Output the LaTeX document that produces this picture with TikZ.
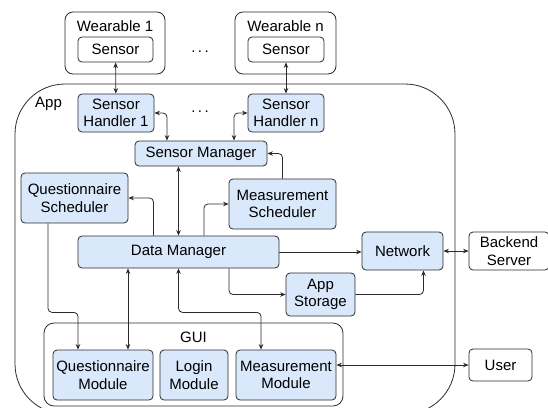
\documentclass[tikz,border=0pt]{standalone}
\usepackage{fontspec}
\setmainfont{Liberation Sans}
\usetikzlibrary{arrows.meta}
\definecolor{boxblue}{HTML}{DAE8FC}
\definecolor{linegray}{HTML}{2B2B2B}

\begin{document}
\begin{tikzpicture}[x=1pt,y=1pt,
  every node/.style={font=\fontsize{15}{17.5}\selectfont},
  module/.style={draw=linegray,fill=boxblue,rounded corners=4pt,align=center,inner sep=0pt,line width=0.8pt},
  plainbox/.style={module,fill=white},
  holder/.style={draw=linegray,fill=white,rounded corners=8pt,inner sep=0pt,line width=0.8pt},
  link/.style={draw=linegray,line width=0.8pt,rounded corners=4pt,-{Stealth[length=5.5pt,width=4.5pt]}},
  both/.style={link,{Stealth[length=5.5pt,width=4.5pt]}-{Stealth[length=5.5pt,width=4.5pt]}}]
\useasboundingbox (0,0) rectangle (548,-407);

% the wearables
\node[holder,minimum width=100,minimum height=62] (wear1) at (115,-43) {};
\node (wear1lab) at (115,-26.5) {Wearable 1};
\node[plainbox,minimum width=75,minimum height=25] (sens1) at (115.5,-49.5) {Sensor};
\node[holder,minimum width=101,minimum height=62] (wearn) at (285.5,-43) {};
\node (wearnlab) at (285.5,-26.5) {Wearable n};
\node[plainbox,minimum width=76,minimum height=25] (sensn) at (286,-49.5) {Sensor};
\node[anchor=base,inner sep=0pt] (dotsa) at (200,-52) {\,.\,.\,.\,};

% the app
\node[draw=linegray,line width=0.8pt,rounded corners=50pt,minimum width=440,minimum height=330,inner sep=0pt] (app) at (235,-249) {};
\node[anchor=base west,inner sep=0pt] (applab) at (35,-107) {App};
\node[module,minimum width=76,minimum height=38] (sh1) at (116,-113) {Sensor\\Handler 1};
\node[module,minimum width=76,minimum height=38] (shn) at (286,-113) {Sensor\\Handler n};
\node[anchor=base,inner sep=0pt] (dotsb) at (200,-112) {\,.\,.\,.\,};
\node[module,minimum width=132,minimum height=25] (sm) at (201,-153.5) {Sensor Manager};
\node[module,minimum width=107,minimum height=50] (qs) at (74.5,-198) {Questionnaire\\Scheduler};
\node[module,minimum width=107,minimum height=50] (ms) at (282.5,-204) {Measurement\\Scheduler};
\node[module,minimum width=201,minimum height=32] (dm) at (178.5,-252) {Data Manager};
\node[module,minimum width=81,minimum height=38] (net) at (402.5,-251) {Network};
\node[module,minimum width=69,minimum height=43] (as) at (320.5,-294.5) {App\\Storage};

% the gui
\node[draw=linegray,line width=0.8pt,rounded corners=10pt,minimum width=299,minimum height=83,inner sep=0pt] (gui) at (193.5,-364.5) {};
\node (guilab) at (193.5,-337.5) {GUI};
\node[module,minimum width=100,minimum height=50] (qm) at (103,-375) {Questionnaire\\Module};
\node[module,minimum width=68,minimum height=50] (lm) at (194,-375) {Login\\Module};
\node[module,minimum width=100,minimum height=50] (mm) at (286,-375) {Measurement\\Module};

% outside
\node[plainbox,minimum width=80,minimum height=38] (back) at (509,-251) {Backend\\Server};
\node[plainbox,minimum width=63,minimum height=32] (user) at (500.5,-365) {User};

% connectors
\draw[both] (sens1) -- (sh1);
\draw[both] (sensn) -- (shn);
\draw[both] (sh1.east) -| ([xshift=-34pt]sm.north);
\draw[both] (shn.west) -| ([xshift=33pt]sm.north);
\draw[both] (sm.south -| dm.north) -- (dm.north);
\draw[link] (ms.north) |- (sm.east);
\draw[link] ([xshift=-25pt]dm.north) |- (qs.east);
\draw[link] ([xshift=25.5pt]dm.north) |- (ms.west);
\draw[link] (dm.east) -- (dm.east -| net.west);
\draw[link] ([xshift=50.5pt]dm.south) |- (as.west);
\draw[link] (as.east) -| ([xshift=21pt]net.south);
\draw[both] (net.east) -- (back.west);
\draw[link] ([xshift=-26.5pt]qs.south) -- ++(0,-89) -| ([xshift=-25pt]qm.north);
\draw[both] ([xshift=-50.5pt]dm.south) -- ([xshift=25pt]qm.north);
\draw[both] (dm.south) -- ++(0,-44) -| ([xshift=-25pt]mm.north);
\draw[both] (user.west -| mm.east) -- (user.west);

\end{tikzpicture}
\end{document}
